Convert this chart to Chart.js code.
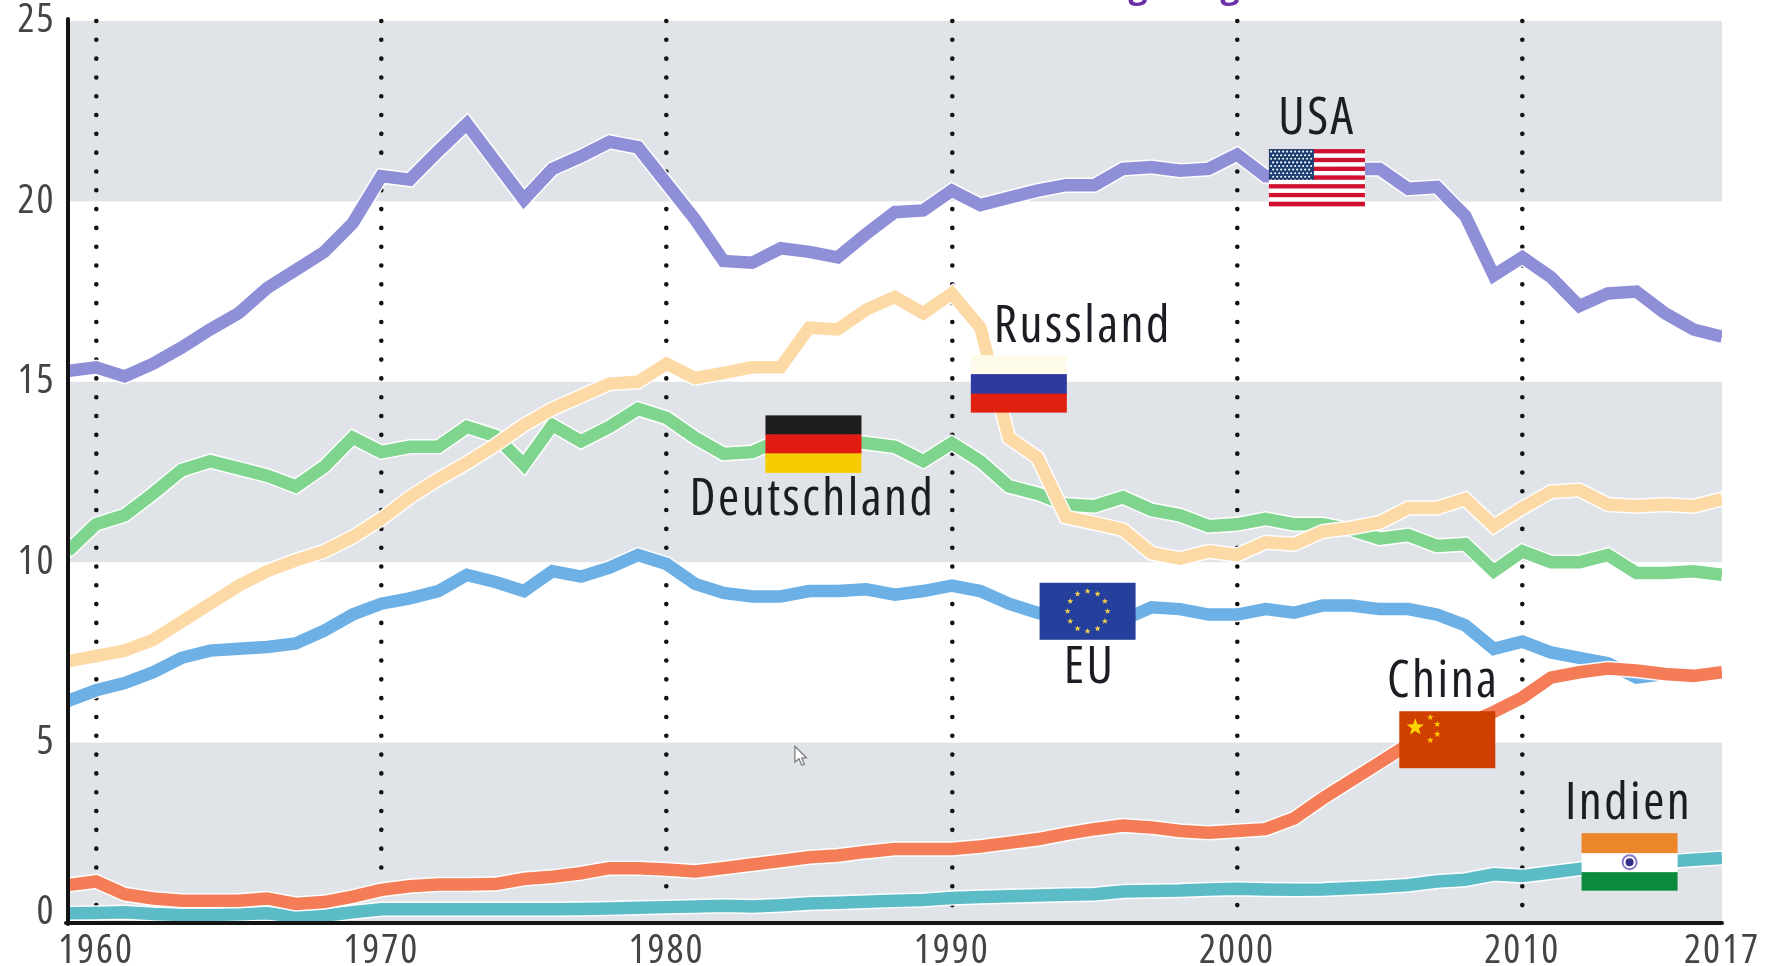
<!DOCTYPE html>
<html><head><meta charset="utf-8">
<style>html,body{margin:0;padding:0;background:#fff}canvas{display:block}</style>
<script src="https://cdn.jsdelivr.net/npm/chart.js@4/dist/chart.umd.min.js"></script>
</head><body><canvas id="c" width="1769" height="966"></canvas>
<script>
const years=[1959,1960,1961,1962,1963,1964,1965,1966,1967,1968,1969,1970,1971,1972,1973,1974,1975,1976,1977,1978,1979,1980,1981,1982,1983,1984,1985,1986,1987,1988,1989,1990,1991,1992,1993,1994,1995,1996,1997,1998,1999,2000,2001,2002,2003,2004,2005,2006,2007,2008,2009,2010,2011,2012,2013,2014,2015,2016,2017];
const tickYears=[1960,1970,1980,1990,2000,2010,2017];
const gridYears=[1960,1970,1980,1990,2000,2010];
const yTicks=[0,5,10,15,20,25];
const bands=[[0,5],[10,15],[20,25]];
const usa=[15.3,15.4,15.15,15.5,15.95,16.45,16.9,17.6,18.1,18.6,19.4,20.7,20.6,21.4,22.15,21.1,20.05,20.9,21.25,21.65,21.5,20.5,19.5,18.35,18.3,18.7,18.6,18.45,19.1,19.7,19.75,20.3,19.9,20.1,20.3,20.45,20.45,20.9,20.95,20.85,20.9,21.3,20.7,20.7,20.7,20.9,20.9,20.35,20.4,19.6,17.95,18.45,17.9,17.1,17.45,17.5,16.9,16.45,16.25];
const russland=[7.25,7.4,7.55,7.85,8.35,8.85,9.35,9.75,10.05,10.3,10.7,11.2,11.8,12.3,12.75,13.25,13.8,14.25,14.6,14.95,15.0,15.5,15.1,15.25,15.4,15.4,16.5,16.45,17.0,17.35,16.9,17.45,16.5,13.45,12.9,11.25,11.08,10.9,10.25,10.1,10.3,10.2,10.55,10.5,10.85,10.95,11.1,11.5,11.5,11.75,11.0,11.5,11.95,12.0,11.6,11.55,11.6,11.55,11.75];
const deutschland=[10.3,11.05,11.3,11.9,12.55,12.8,12.6,12.4,12.1,12.65,13.45,13.05,13.2,13.2,13.75,13.5,12.7,13.8,13.35,13.75,14.25,14.0,13.45,13.0,13.05,13.4,13.5,13.4,13.3,13.2,12.8,13.3,12.8,12.1,11.9,11.6,11.55,11.8,11.45,11.3,11.0,11.05,11.2,11.05,11.05,10.9,10.65,10.75,10.45,10.5,9.75,10.3,10.0,10.0,10.2,9.7,9.7,9.75,9.65];
const eu=[6.15,6.45,6.65,6.95,7.35,7.55,7.6,7.65,7.75,8.1,8.55,8.85,9.0,9.2,9.65,9.45,9.2,9.75,9.6,9.85,10.2,9.95,9.4,9.15,9.05,9.05,9.2,9.2,9.25,9.1,9.2,9.35,9.2,8.85,8.6,8.4,8.3,8.4,8.75,8.7,8.55,8.55,8.7,8.6,8.8,8.8,8.7,8.7,8.55,8.25,7.6,7.8,7.5,7.35,7.2,6.8,6.9,6.85,6.95];
const china=[1.05,1.15,0.8,0.68,0.62,0.62,0.62,0.68,0.53,0.58,0.73,0.92,1.02,1.07,1.07,1.08,1.22,1.28,1.38,1.52,1.52,1.48,1.43,1.52,1.62,1.72,1.82,1.87,1.97,2.05,2.05,2.05,2.12,2.22,2.32,2.47,2.6,2.7,2.65,2.55,2.5,2.55,2.6,2.9,3.45,3.95,4.45,4.95,5.2,5.5,5.85,6.25,6.8,6.95,7.05,7.0,6.9,6.85,6.95];
const indien=[0.27,0.28,0.3,0.25,0.22,0.22,0.24,0.27,0.18,0.2,0.3,0.38,0.38,0.38,0.38,0.38,0.38,0.38,0.39,0.4,0.42,0.44,0.46,0.48,0.46,0.49,0.54,0.56,0.59,0.62,0.64,0.69,0.72,0.74,0.76,0.78,0.8,0.87,0.89,0.9,0.93,0.95,0.93,0.92,0.93,0.96,1.0,1.05,1.15,1.2,1.35,1.3,1.4,1.5,1.6,1.65,1.7,1.75,1.8];
const names=['Russland','USA','Deutschland','China','EU','Indien'];
const values=[russland,usa,deutschland,china,eu,indien];
const colors=['#fdd9a6','#8f8fd8','#7fd48e','#f47c56','#6cb0e5','#5bbcc8'];
// flag anchor (year, value) for each annotation
const flagYears={USA:2002.8,Russland:1992.35,Deutschland:1985.15,EU:1994.76,China:2007.37,Indien:2013.76};
const flagValues={USA:20.66,Russland:14.95,Deutschland:13.28,EU:8.64,China:5.08,Indien:1.7};
const labelOffsetsX={USA:0,Russland:64,Deutschland:-1,EU:2,China:-4,Indien:-1};
const labelOffsetsY={USA:-58,Russland:-56,Deutschland:57,EU:57,China:-57,Indien:-57};

const FONT='"Open Sans",sans-serif';
const FW=96,FH=57;

function stripes(ctx,x,y,cols,hs){let yy=y;cols.forEach((c,i)=>{ctx.fillStyle=c;ctx.fillRect(x,yy,FW,hs[i]+0.5);yy+=hs[i];});}
function star(ctx,cx,cy,r,col){ctx.fillStyle=col;ctx.beginPath();for(let i=0;i<10;i++){const a=-Math.PI/2+i*Math.PI/5,rr=i%2?r*0.42:r;ctx.lineTo(cx+rr*Math.cos(a),cy+rr*Math.sin(a));}ctx.closePath();ctx.fill();}
const flags={
 USA(ctx,x,y){
  const h=FH/13;for(let i=0;i<13;i++){ctx.fillStyle=i%2?'#fff':'#d0102e';ctx.fillRect(x,y+i*h,FW,h+0.3);}
  ctx.fillStyle='#1c3f73';ctx.fillRect(x,y,45,h*7);
  ctx.fillStyle='#fff';for(let r=0;r<9;r++)for(let c=0;c<(r%2?10:11);c++){ctx.beginPath();ctx.arc(x+2.2+c*4+(r%2?2:0),y+2.5+r*3.6,1.05,0,7);ctx.fill();}
 },
 Russland(ctx,x,y){stripes(ctx,x,y,['#fffbea','#2f3aa0','#e2200f'],[19,19.5,18.5]);},
 Deutschland(ctx,x,y){stripes(ctx,x,y,['#1e1c1c','#e21b13','#f6cc00'],[19,19,19]);},
 EU(ctx,x,y){ctx.fillStyle='#243f9c';ctx.fillRect(x,y,FW,FH);for(let i=0;i<12;i++){const a=i*Math.PI/6;star(ctx,x+FW/2+20*Math.sin(a),y+FH/2-20*Math.cos(a),3.2,'#f1d24a');}},
 China(ctx,x,y){ctx.fillStyle='#cf3f00';ctx.fillRect(x,y,FW,FH);star(ctx,x+16,y+16,9,'#ffd400');[[31,6],[38,13],[38,23],[31,29]].forEach(p=>star(ctx,x+p[0],y+p[1],3.4,'#ffc400'));},
 Indien(ctx,x,y){stripes(ctx,x,y,['#ec862a','#ffffff','#0a8a3c'],[20,19,18]);ctx.strokeStyle='#8a78c8';ctx.lineWidth=2;ctx.beginPath();ctx.arc(x+FW/2,y+FH/2+0.5,7,0,7);ctx.stroke();ctx.fillStyle='#33308a';ctx.beginPath();ctx.arc(x+FW/2,y+FH/2+0.5,4,0,7);ctx.fill();}
};

const decor={
 id:'decor',
 beforeDraw(chart){
  const {ctx,chartArea:a,scales:{y}}=chart;
  ctx.save();ctx.fillStyle='#e0e4e8';
  bands.forEach(b=>{const t=y.getPixelForValue(b[1]),u=y.getPixelForValue(b[0]);ctx.fillRect(a.left,t,a.right-a.left,u-t);});
  ctx.restore();
  ctx.lineCap='round';
  ctx.letterSpacing='2px';
 },
 beforeDatasetDraw(chart,args){
  const {ctx,chartArea:a}=chart,pts=args.meta.data;
  ctx.save();ctx.beginPath();ctx.rect(a.left,a.top,a.right-a.left,a.bottom-a.top);ctx.clip();
  ctx.beginPath();pts.forEach((p,i)=>i?ctx.lineTo(p.x,p.y):ctx.moveTo(p.x,p.y));
  ctx.strokeStyle='rgba(255,255,255,0.95)';ctx.lineWidth=15.5;ctx.lineJoin='miter';ctx.stroke();ctx.restore();
 },
 afterDatasetsDraw(chart){
  const {ctx,scales:{x,y}}=chart;
  const xp=v=>{const i=Math.floor(v-years[0]);return x.getPixelForValue(i)+(v-years[0]-i)*(x.getPixelForValue(i+1)-x.getPixelForValue(i));};
  ctx.save();
  names.forEach(n=>{
   const cx=xp(flagYears[n]),cy=y.getPixelForValue(flagValues[n]);
   flags[n](ctx,cx-FW/2,cy-FH/2);
   ctx.font='condensed 51px '+FONT;ctx.letterSpacing='2.5px';ctx.fillStyle='#1b1d22';ctx.textAlign='center';ctx.textBaseline='middle';
   ctx.fillText(n,cx+labelOffsetsX[n],cy+labelOffsetsY[n]);
  });
  // mouse pointer seen in the reference
  const mx=xp(1984.5),my=y.getPixelForValue(4.9);
  ctx.strokeStyle='#777';ctx.fillStyle='#fff';ctx.lineWidth=1.2;ctx.beginPath();
  [[0,0],[0,16],[4,12.5],[7,19],[9.5,18],[6.8,11.8],[11.5,11.5]].forEach((p,i)=>i?ctx.lineTo(mx+p[0],my+p[1]):ctx.moveTo(mx+p[0],my+p[1]));
  ctx.closePath();ctx.fill();ctx.stroke();
  // descenders of the cropped purple heading
  ctx.letterSpacing='0px';ctx.fillStyle='#6b2fa8';ctx.font='bold 34px '+FONT;ctx.textAlign='center';ctx.textBaseline='alphabetic';
  ctx.fillText('g',1138,-2);ctx.fillText('g',1230,-2);
  ctx.restore();
 }
};

new Chart(document.getElementById('c'),{
 type:'line',
 data:{labels:years,datasets:names.map((n,i)=>({label:n,data:values[i],borderColor:colors[i],borderWidth:12.5,pointRadius:0,tension:0,fill:false,clip:0,borderJoinStyle:'miter',borderCapStyle:'butt'}))},
 plugins:[decor],
 options:{
  responsive:false,animation:false,
  layout:{autoPadding:false,padding:{left:0,top:21,right:47,bottom:0}},
  plugins:{legend:{display:false},title:{display:false},tooltip:{enabled:false}},
  scales:{
   x:{type:'category',offset:false,
    afterFit(s){s.height=43;s.paddingLeft=0;s.paddingRight=0;},
    border:{color:'#141414',width:4,z:1,dash:[0.01,18.8]},
    grid:{drawTicks:false,
     color:c=>gridYears.includes(years[c.index])?'#111':'rgba(0,0,0,0)',
     lineWidth:c=>gridYears.includes(years[c.index])?4.6:0},
    ticks:{autoSkip:false,maxRotation:0,minRotation:0,padding:5,color:'#444',font:{family:FONT,size:40,weight:'condensed'},
     callback(v,i){const yr=years[i];return tickYears.includes(yr)?String(yr):'';}}
   },
   y:{min:0,max:25,
    afterFit(s){s.width=67.5;s.paddingTop=0;s.paddingBottom=0;},
    afterBuildTicks(s){s.ticks=yTicks.map(v=>({value:v}));},
    border:{color:'#141414',width:4,z:1},
    grid:{display:false,drawTicks:false},
    ticks:{padding:12,color:'#444',font:{family:FONT,size:40,weight:'condensed',lineHeight:0.5},
     callback(v){return v===0?['0',' ']:String(v);}}
   }
  }
 }
});
</script></body></html>
